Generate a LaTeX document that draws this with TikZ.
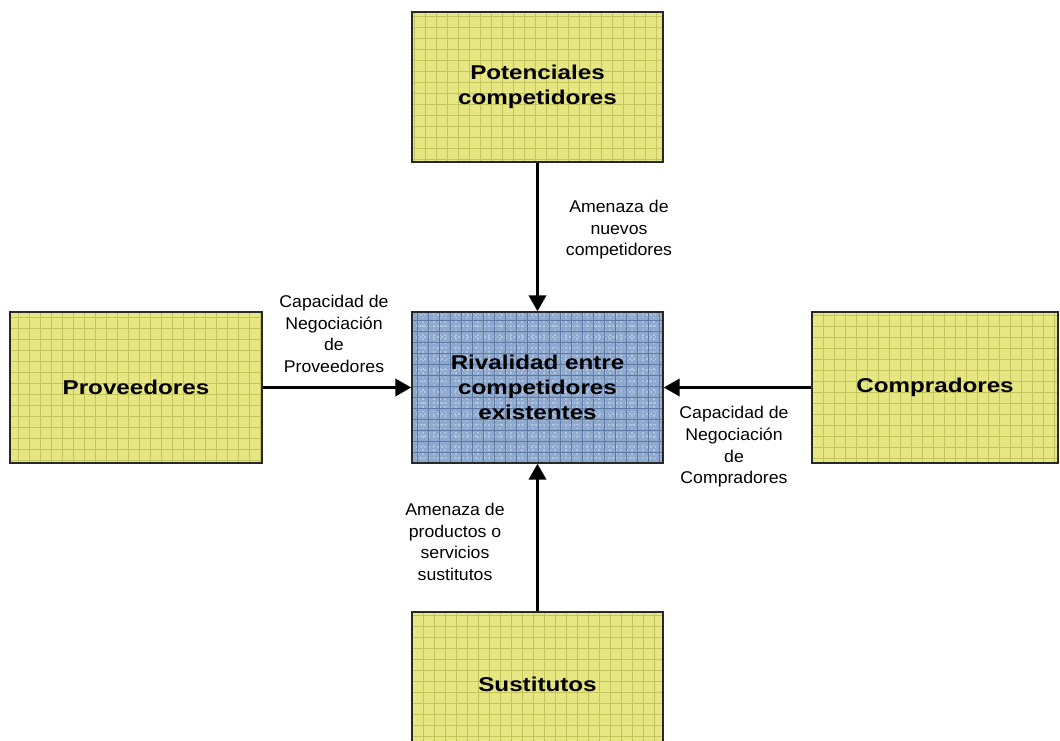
\documentclass[tikz,border=0pt]{standalone}
\usepackage{fontspec}
\setmainfont{Liberation Sans}
\newfontfamily\boxfont{Liberation Sans}[FakeStretch=1.21]
\newfontfamily\labfont{Liberation Sans}[FakeStretch=1.04]
\usetikzlibrary{arrows.meta}
\definecolor{yfill}{RGB}{230,230,130}
\definecolor{ygrid}{RGB}{196,196,90}
\definecolor{bfill}{RGB}{142,168,206}
\definecolor{bgrid}{RGB}{92,122,164}
\definecolor{bdot}{RGB}{176,196,224}
\definecolor{edge}{RGB}{40,40,40}
\tikzset{
  forcebox/.style={draw=edge, line width=1.1pt, inner sep=0pt, align=center,
    font=\boxfont\bfseries\fontsize{15pt}{18.75pt}\selectfont},
  yellowbox/.style={forcebox, fill=yfill,
    path picture={\draw[ygrid, line width=0.5pt, step=8.25pt]
      ([shift={(-10pt,-10pt)}]path picture bounding box.south west) grid
      ([shift={(10pt,10pt)}]path picture bounding box.north east);}},
  bluebox/.style={forcebox, fill=bfill,
    path picture={\draw[bdot, line width=1.2pt, dotted, step=4.125pt]
      ([shift={(-10pt,-10pt)}]path picture bounding box.south west) grid
      ([shift={(10pt,10pt)}]path picture bounding box.north east);
      \draw[bgrid, line width=0.6pt, step=8.25pt]
      ([shift={(-10pt,-10pt)}]path picture bounding box.south west) grid
      ([shift={(10pt,10pt)}]path picture bounding box.north east);}},
  arr/.style={line width=2.2pt, -{Triangle[length=12pt,width=13pt]}},
  lab/.style={align=center, inner sep=1pt,
    font=\labfont\fontsize{12.75pt}{16.2pt}\selectfont}
}
\begin{document}
\begin{tikzpicture}[x=0.75pt,y=0.75pt]
\useasboundingbox (0,0) rectangle (1060,740);
\clip (0,0) rectangle (1060,740);
\fill[white] (0,0) rectangle (1060,740);
% boxes
\node[yellowbox, minimum width=188.25pt, minimum height=112.5pt] (top) at (537.5,653)
  {Potenciales\\competidores};
\node[bluebox, minimum width=188.25pt, minimum height=113.25pt] (mid) at (537.5,352.5)
  {Rivalidad entre\\competidores\\existentes};
\node[yellowbox, minimum width=189pt, minimum height=113.25pt] (left) at (136,352.5)
  {Proveedores};
\node[yellowbox, minimum width=184.5pt, minimum height=113.25pt] (right) at (935,352.5)
  {Compradores};
\node[yellowbox, minimum width=188.25pt, minimum height=126pt] (bot) at (537.5,44)
  {\raisebox{17pt}{Sustitutos}};
% arrows
\draw[arr] (top.south) -- (mid.north);
\draw[arr] (left.east) -- (mid.west);
\draw[arr] (right.west) -- (mid.east);
\draw[arr] (bot.north) -- (mid.south);
% labels
\node[lab] (ltop) at (619,510) {Amenaza de\\nuevos\\competidores};
\node[lab] (lleft) at (334,406) {Capacidad de\\Negociación\\de\\Proveedores};
\node[lab] (lright) at (734,293) {Capacidad de\\Negociación\\de\\Compradores};
\node[lab] (lbot) at (455,198) {Amenaza de\\productos o\\servicios\\sustitutos};
\end{tikzpicture}
\end{document}
